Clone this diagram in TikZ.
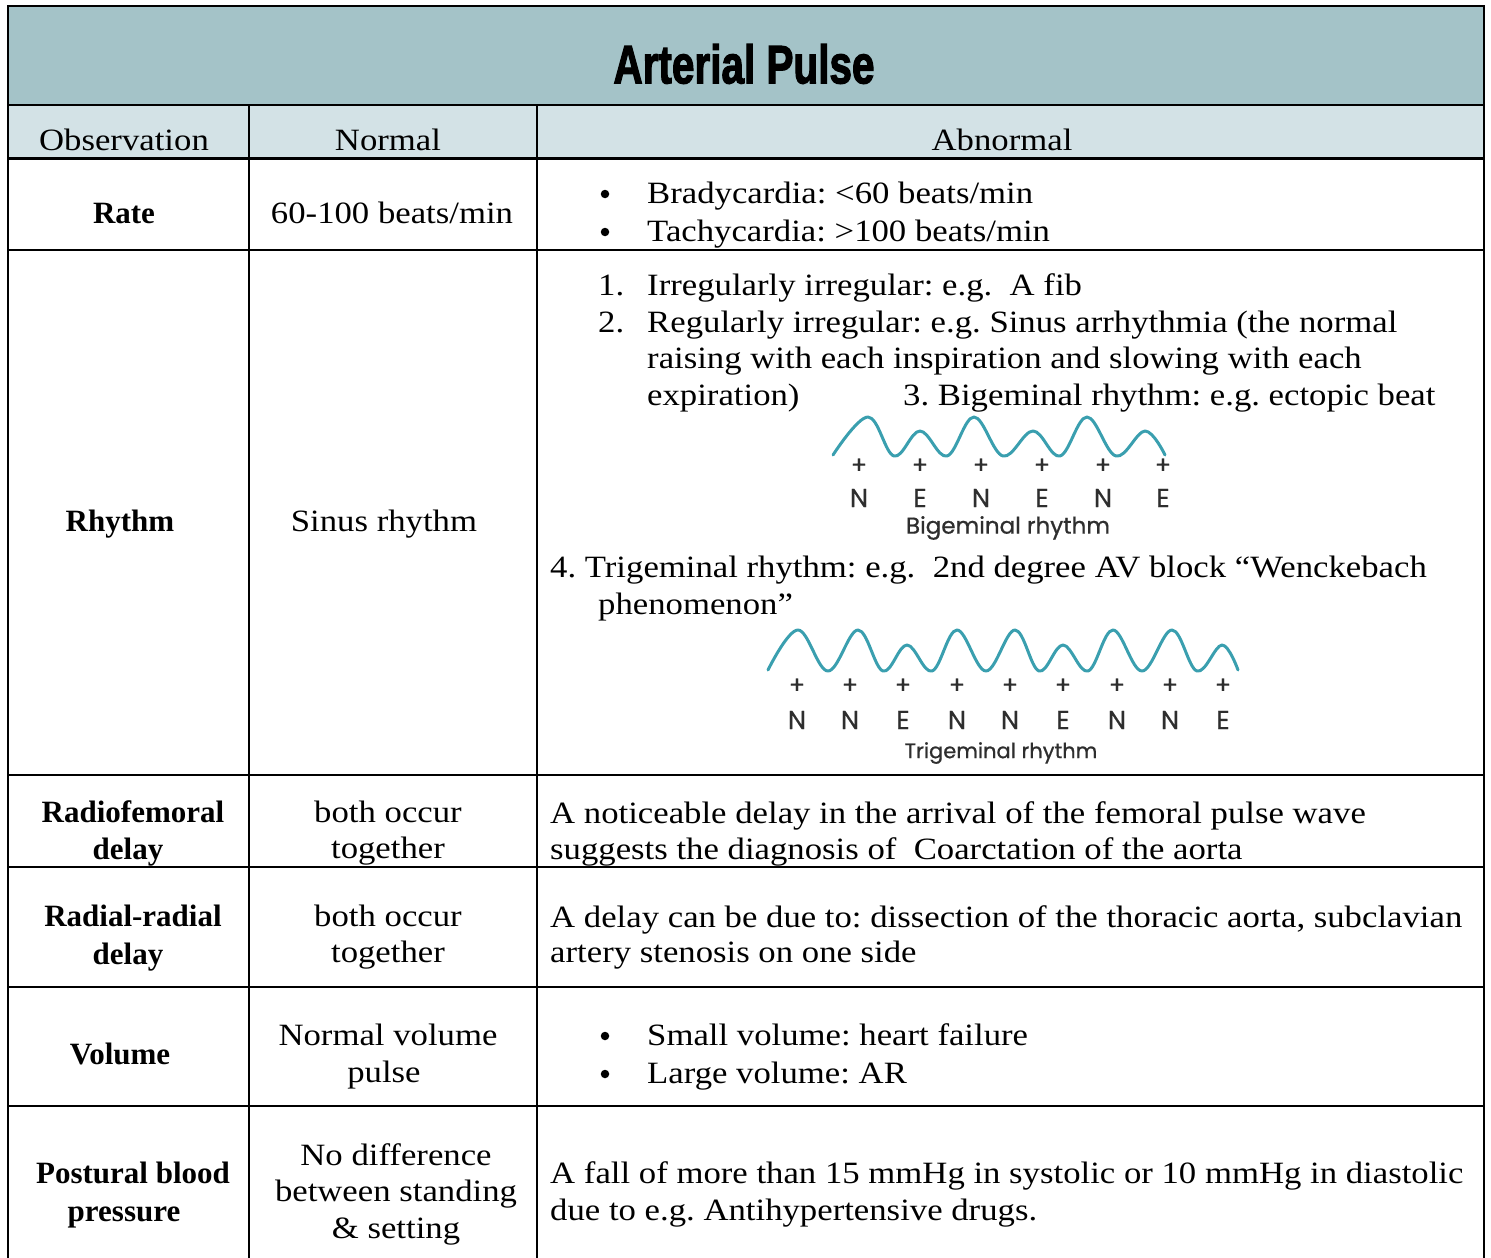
\documentclass[tikz,border=0pt]{standalone}
\usepackage{fontspec}
\setmainfont{Liberation Serif}
\newfontfamily\wide{Liberation Serif}[FakeStretch=1.12]
\newfontfamily\figfont{Poppins}[FakeBold=0.8]
\newfontfamily\titlefont{Liberation Sans}[BoldFeatures={FakeBold=2.5}]
\newcommand\tfs{\fontsize{31}{36}\selectfont}
\frenchspacing
\definecolor{titlebg}{HTML}{A4C3C8}
\definecolor{headbg}{HTML}{D3E2E6}
\definecolor{wave}{HTML}{3A9FAF}
\definecolor{figtext}{HTML}{2E2E2E}
\tikzset{
  txt/.style={font=\wide\tfs, inner sep=0pt, anchor=base west},
  ctr/.style={font=\wide\tfs, inner sep=0pt, anchor=base},
  bld/.style={font=\tfs\bfseries, inner sep=0pt, anchor=base},
  bul/.style={circle, fill=black, inner sep=0pt, minimum size=8.5pt},
  grid/.style={line width=1.6pt, black},
  wavy/.style={line width=3pt, wave, line cap=round, line join=round},
  plus/.style={font=\figfont\fontsize{24}{24}\selectfont, text=figtext, inner sep=0pt, anchor=center},
  letter/.style={font=\figfont\fontsize{26}{26}\selectfont, text=figtext, inner sep=0pt, anchor=center},
  caption/.style={font=\figfont\fontsize{23}{23}\selectfont, text=figtext, inner sep=0pt, anchor=center},
}
\begin{document}
\begin{tikzpicture}[x=1pt,y=-1pt]
\useasboundingbox (0,0) rectangle (1491,1258);
% backgrounds
\fill[titlebg] (8,6) rectangle (1484,105);
\fill[headbg] (8,105) rectangle (1484,158);
% grid
\draw[grid] (8,1258) -- (8,6) -- (1484,6) -- (1484,1258);
\draw[grid] (8,105) -- (1484,105);
\draw[line width=3pt] (8,158) -- (1484,158);
\foreach \yy in {250,775,867,987,1106} \draw[grid] (8,\yy) -- (1484,\yy);
\draw[grid] (249,105) -- (249,1258);
\draw[grid] (537,105) -- (537,1258);
% title
\node[inner sep=0pt, anchor=center] (title) at (744,64) {\scalebox{0.75}[1]{\titlefont\bfseries\fontsize{54}{54}\selectfont Arterial Pulse}};
% header
\node[ctr] (hobs) at (124,150) {Observation};
\node[ctr] (hnorm) at (388,150) {Normal};
\node[ctr] (habn) at (1002,150) {Abnormal};
% Rate
\node[bld] (rate) at (124,223) {Rate};
\node[ctr] (raten) at (392,223) {60-100 beats/min};
\node[bul] (rb1) at (605,194) {};
\node[txt] (ra1) at (647,203) {Bradycardia: <60 beats/min};
\node[bul] (rb2) at (605,232) {};
\node[txt] (ra2) at (647,241) {Tachycardia: >100 beats/min};
% Rhythm
\node[bld] (rhy) at (120,531) {Rhythm};
\node[ctr] (rhyn) at (384,531) {Sinus rhythm};
\node[txt] (n1) at (598,295) {1.};
\node[txt] (l1) at (647,295) {Irregularly irregular: e.g.\ \ A fib};
\node[txt] (n2) at (598,332) {2.};
\node[txt] (l2) at (647,332) {Regularly irregular: e.g. Sinus arrhythmia (the normal};
\node[txt] (l3) at (647,368) {raising with each inspiration and slowing with each};
\node[txt] (l4) at (647,405) {expiration)};
\node[txt] (l5) at (903,405) {3. Bigeminal rhythm: e.g. ectopic beat};
% bigeminal figure
\draw[wavy] plot[smooth, tension=0.62] coordinates {(833,455) (868,417) (894,456) (920,431) (947,456) (974,417) (1003,456) (1033,431) (1060,456) (1087,417) (1116,456) (1145,431) (1165,455)};
\foreach \xx/\ll [count=\i] in {859/N,920/E,981/N,1042/E,1103/N,1163/E}{
  \node[plus] (bp\i) at (\xx,466) {+};
  \node[letter] (bl\i) at (\xx,498) {\ll};
}
\node[caption] (bcap) at (1008,528) {Bigeminal rhythm};
\node[txt] (l6) at (550,577) {4. Trigeminal rhythm: e.g.\ \ 2nd degree AV block “Wenckebach};
\node[txt] (l7) at (598,614) {phenomenon”};
% trigeminal figure
\draw[wavy] plot[smooth, tension=0.62] coordinates {(768,670) (798,630) (828,671) (858,630) (883,671) (907,645) (932,671) (957,630) (986,671) (1015,630) (1039,671) (1063,645) (1088,671) (1113,630) (1142,671) (1172,630) (1197,671) (1222,645) (1238,670)};
\foreach \xx/\ll [count=\i] in {797/N,850/N,903/E,957/N,1010/N,1063/E,1117/N,1170/N,1223/E}{
  \node[plus] (tp\i) at (\xx,686) {+};
  \node[letter] (tl\i) at (\xx,720) {\ll};
}
\node[caption, font=\figfont\fontsize{21}{21}\selectfont] (tcap) at (1001,753) {Trigeminal rhythm};
% Radiofemoral
\node[bld] (rf1) at (133,822) {Radiofemoral};
\node[bld] (rf2) at (128,859) {delay};
\node[ctr] (rfn1) at (388,822) {both occur};
\node[ctr] (rfn2) at (388,858) {together};
\node[txt] (rfa1) at (550,823) {A noticeable delay in the arrival of the femoral pulse wave};
\node[txt] (rfa2) at (550,859) {suggests the diagnosis of\ \ Coarctation of the aorta};
% Radial-radial
\node[bld] (rr1) at (133,926) {Radial-radial};
\node[bld] (rr2) at (128,964) {delay};
\node[ctr] (rrn1) at (388,926) {both occur};
\node[ctr] (rrn2) at (388,962) {together};
\node[txt] (rra1) at (550,927) {A delay can be due to: dissection of the thoracic aorta, subclavian};
\node[txt] (rra2) at (550,962) {artery stenosis on one side};
% Volume
\node[bld] (vol) at (120,1064) {Volume};
\node[ctr] (voln1) at (388,1045) {Normal volume};
\node[ctr] (voln2) at (384,1082) {pulse};
\node[bul] (vb1) at (605,1036) {};
\node[txt] (va1) at (647,1045) {Small volume: heart failure};
\node[bul] (vb2) at (605,1074) {};
\node[txt] (va2) at (647,1083) {Large volume: AR};
% Postural
\node[bld] (pb1) at (133,1183) {Postural blood};
\node[bld] (pb2) at (124,1221) {pressure};
\node[ctr] (pn1) at (396,1165) {No difference};
\node[ctr] (pn2) at (396,1201) {between standing};
\node[ctr] (pn3) at (396,1238) {\& setting};
\node[txt] (pa1) at (550,1183) {A fall of more than 15 mmHg in systolic or 10 mmHg in diastolic};
\node[txt] (pa2) at (550,1220) {due to e.g. Antihypertensive drugs.};
\end{tikzpicture}
\end{document}
